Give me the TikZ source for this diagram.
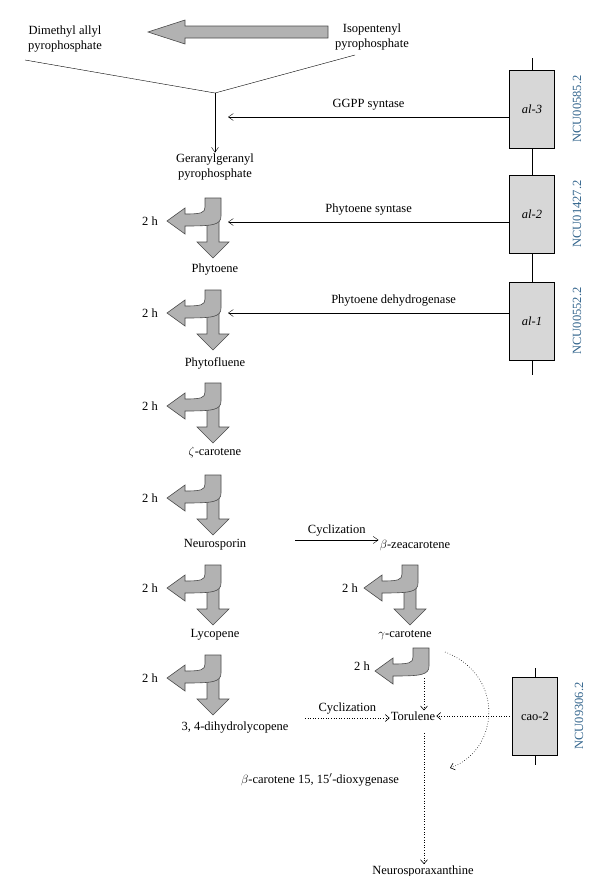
\documentclass[tikz,border=0pt]{standalone}
\usepackage{fontspec}
\setmainfont{Liberation Serif}
\usetikzlibrary{arrows.meta}
\definecolor{ncublue}{RGB}{50,100,140}
\definecolor{boxgray}{RGB}{215,215,215}
\begin{document}
\begin{tikzpicture}[x=1pt,y=-1pt,font=\fontsize{12.5}{15}\selectfont,
    lbl/.style={inner sep=1pt,align=center},
    arj/.style={-{Straight Barb[length=5pt,width=7pt]}},
    dotj/.style={dotted,semithick,-{Straight Barb[length=4pt,width=7pt]}},
    gene/.style={draw,semithick,fill=boxgray,minimum width=45pt,minimum height=78pt,inner sep=0pt},
    ncu/.style={rotate=90,text=ncublue,font=\fontsize{12.5}{15}\selectfont},
    fat/.style={draw=black!70,fill=black!30,semithick}]
  \useasboundingbox (0,0) rectangle (600,876);
  % curved split arrow, origin at top-left of the shaft
  \tikzset{split/.pic={
    \path[fat] (2,20) -- (14,20) -- (14,44) -- (24,44) -- (8,60) -- (-8,44) -- (2,44) -- cycle;
    \path[fat] (0,0) -- (16,0) -- (16,18) .. controls (16,27) and (8,28) .. (-20,28) -- (-20,36)
      -- (-38,23) -- (-20,10) -- (-20,16) .. controls (-4,16) and (0,15) .. (0,9) -- cycle;},
    halfsplit/.pic={
    \path[fat] (0,0) -- (16,0) -- (16,18) .. controls (16,27) and (8,28) .. (-20,28) -- (-20,36)
      -- (-38,23) -- (-20,10) -- (-20,16) .. controls (-4,16) and (0,15) .. (0,9) -- cycle;}}

  % precursors
  \node(dmapp)[lbl] at (65,39) {Dimethyl allyl\\pyrophosphate};
  \node(ipp)[lbl] at (372,37) {Isopentenyl\\pyrophosphate};
  \path[fat] (328,26) -- (185,26) -- (185,20) -- (148,32) -- (185,44) -- (185,38) -- (328,38) -- cycle;
  \coordinate(join) at (215,93);
  \draw (25,60) -- (join) -- (355,55);
  \node(ggpp)[lbl] at (215,167) {Geranylgeranyl\\pyrophosphate};
  \draw[arj] (join) -- (ggpp.north);

  % linear chain
  \node(phytoene)[lbl] at (215,270) {Phytoene};
  \node(phytofluene)[lbl] at (215,363) {Phytofluene};
  \node(zcar)[lbl] at (215,452) {$\zeta$-carotene};
  \node(neuro)[lbl] at (215,545) {Neurosporin};
  \node(lyco)[lbl] at (215,635) {Lycopene};
  \node(dihydro)[lbl] at (235,728) {3, 4-dihydrolycopene};
  \foreach \y in {198,290,383,475,565,655}{
    \pic at (205,\y) {split};
    \node[lbl] at (150,\y+23) {2 h};
  }

  % branch
  \node(bzea)[lbl] at (415,545) {$\beta$-zeacarotene};
  \node(gcar)[lbl] at (405,635) {$\gamma$-carotene};
  \node(torulene)[lbl] at (413,716) {Torulene};
  \node(nxan)[lbl] at (423,871) {Neurosporaxanthine};
  \node(dioxy)[lbl] at (320,780) {$\beta$-carotene 15, 15$'$-dioxygenase};
  \pic at (402,565) {split};
  \node[lbl] at (350,588) {2 h};
  \pic at (413,648) {halfsplit};
  \node[lbl] at (362,666) {2 h};
  \coordinate(cycA) at (295,540);
  \coordinate(cycB) at (305,718);
  \coordinate(gdot) at (424,678);
  \coordinate(tdot) at (424,733);
  \draw[arj] (cycA) -- node[above]{Cyclization} (cycA -| bzea.west);
  \draw[dotj] (cycB) -- node[above]{Cyclization} (cycB -| torulene.west);
  \draw[dotj] (gdot) -- (gdot |- torulene.north);
  \draw[dotj] (tdot) -- (tdot |- nxan.north);

  % genes
  \draw[semithick] (532,58) -- (532,375);
  \node(al3)[gene] at (532,109) {\itshape al-3};
  \node(al2)[gene] at (532,214) {\itshape al-2};
  \node(al1)[gene] at (532,321) {\itshape al-1};
  \node[ncu] at (577,109) {NCU00585.2};
  \node[ncu] at (577,214) {NCU01427.2};
  \node[ncu] at (577,321) {NCU00552.2};
  \draw[arj] (al3.west |- 0,117) -- node[above=3pt,pos=0.5]{GGPP syntase} (228,117);
  \draw[arj] (al2.west |- 0,222) -- node[above=3pt]{Phytoene syntase} (228,222);
  \draw[arj] (al1.west |- 0,313) -- node[above=3pt,xshift=25pt]{Phytoene dehydrogenase} (228,313);

  \draw[semithick] (535,668) -- (535,765);
  \node(cao)[gene] at (535,716) {cao-2};
  \node[ncu] at (579,716) {NCU09306.2};
  \draw[dotj] (cao.west) -- (torulene.east);
  \draw[dotted,semithick,-{Straight Barb[length=4pt,width=7pt]}] (445,652) .. controls (505,675) and (500,750) .. (450,768);
\end{tikzpicture}
\end{document}
